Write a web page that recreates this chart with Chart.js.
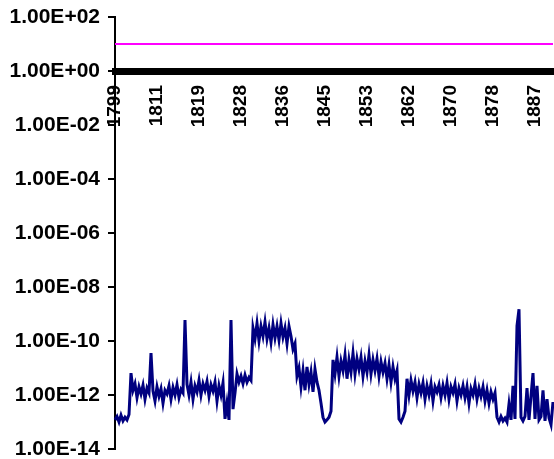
<!DOCTYPE html>
<html>
<head>
<meta charset="utf-8">
<title>Ratio chart</title>
<script src="https://cdn.jsdelivr.net/npm/chart.js@4.4.1/dist/chart.umd.min.js"></script>
<style>
  html, body { margin: 0; padding: 0; background: #fff; }
  #wrap { width: 554px; height: 459px; }
</style>
</head>
<body>
<div id="wrap"><canvas id="ratioChart" width="554" height="459"></canvas></div>
<script>
// year labels on the x axis, one every 21 samples
const tickYears = [1799, 1811, 1819, 1828, 1836, 1845, 1853, 1862, 1870, 1878, 1887];
const samplesPerTick = 21;

// log axis tick values
const yTicks = [1e2, 1e0, 1e-2, 1e-4, 1e-6, 1e-8, 1e-10, 1e-12, 1e-14];

// magenta reference level (start and end of the line)
const refLevel = [10, 10];

// navy series
const ratio = [
  // 1799 - low start
  1.2e-13, 1.6e-13, 1.0e-13, 1.8e-13, 1.1e-13, 1.5e-13, 1.2e-13, 1.9e-13,
  6.5e-12,
  1.5e-12, 2.6e-12, 8e-13, 2e-12, 1.1e-12, 2.3e-12, 7e-13, 1.8e-12, 1.2e-12,
  3.6e-11,
  1.4e-12, 6e-13, 2e-12, 9e-13, 1.7e-12, 5e-13, 1.5e-12, 1.1e-12,
  2.2e-12, 7e-13, 1.9e-12, 1e-12, 2.4e-12, 8e-13, 1.6e-12, 1.2e-12,
  6e-10,
  2.5e-12, 1e-12, 3e-12, 7e-13, 2.2e-12, 1.3e-12, 3.5e-12, 1e-12, 2.6e-12, 1.5e-12,
  3.2e-12, 9e-13, 2.4e-12, 1.4e-12, 3e-12, 6e-13, 2.2e-12, 1e-12, 2.8e-12,
  1.3e-13, 5e-13, 1.2e-13,
  6e-10,
  3e-13, 1.2e-12,
  6e-12, 3e-12, 5e-12, 2.6e-12, 5.5e-12, 3e-12, 4.5e-12, 3.5e-12,
  // high block
  3e-10, 1.2e-10, 4.5e-10, 1e-10, 3.5e-10, 1.5e-10, 5e-10, 1.2e-10, 3e-10, 9e-11, 4e-10,
  1.3e-10, 3.5e-10, 1.1e-10, 4.5e-10, 1.4e-10, 3e-10, 8e-11, 3.5e-10, 1.5e-10, 5e-11, 8e-11,
  5e-12, 1e-11, 2e-12, 8e-12, 1.5e-12, 1.1e-11, 2.5e-12, 7e-12, 1.3e-12, 9e-12, 3e-12, 1.5e-12, 5e-13,
  1.5e-13, 1e-13, 1.2e-13, 1.5e-13, 2.5e-13,
  // middle block
  2e-11, 6e-12, 2.5e-11, 5e-12, 1.8e-11, 8e-12, 3e-11, 4e-12, 2e-11, 7e-12, 3.5e-11,
  6e-12, 2.2e-11, 9e-12, 2.5e-11, 5e-12, 1.8e-11, 7e-12, 3e-11, 6e-12, 2e-11, 8e-12,
  2.2e-11, 5e-12, 1.7e-11, 7e-12, 1.5e-11, 4e-12, 1.3e-11, 3e-12, 1.1e-11, 4e-12, 8e-12,
  1.3e-13, 1e-13, 1.5e-13, 2.5e-13,
  4e-12, 1e-12, 3.5e-12, 1.4e-12, 3e-12, 8e-13, 2.5e-12, 1.2e-12, 2.8e-12, 7e-13,
  2.2e-12, 1e-12, 2.6e-12, 6e-13, 2e-12, 1.3e-12, 2.4e-12, 8e-13, 2.2e-12, 1e-12,
  2.8e-12, 7e-13, 2e-12, 1.2e-12, 2.5e-12, 6e-13, 1.8e-12, 1e-12, 2.2e-12, 8e-13,
  2e-12, 5e-13, 1.7e-12, 1e-12, 2.5e-12, 7e-13, 1.8e-12, 9e-13, 2e-12, 6e-13,
  1.5e-12, 5e-13, 1.3e-12, 7e-13, 1.2e-12,
  // low tail with spikes
  1.5e-13, 1e-13, 1.6e-13, 1.1e-13, 1.4e-13, 1e-13, 4.6e-13, 1.2e-13, 2.2e-12, 1.3e-13,
  3.6e-10, 1.5e-9, 1.5e-13, 1.1e-13, 1.6e-13, 1.8e-12, 1.2e-13, 9e-13, 6.5e-12, 1.3e-13,
  2.2e-12, 1.2e-13, 1.6e-13, 1.5e-12, 1.1e-13, 7e-13, 1.4e-13, 8e-14, 5.5e-13
];

const labels = ratio.map((v, i) => i);

// 1e-10 -> "1.00E-10"
function sci(v) {
  const [m, e] = Number(v).toExponential(2).split('e');
  return m + 'E' + e[0] + e.slice(1).padStart(2, '0');
}

const boldFont = (size) => ({ family: "'Liberation Sans', Arial, sans-serif", size: size, weight: 'bold' });

new Chart(document.getElementById('ratioChart').getContext('2d'), {
  type: 'line',
  data: {
    labels: labels,
    datasets: [
      {
        data: ratio,
        borderColor: '#000080',
        borderWidth: 3,
        pointRadius: 0,
        tension: 0
      },
      {
        data: refLevel.map((v, k) => ({ x: k === 0 ? 0 : ratio.length - 1, y: v })),
        borderColor: '#ff00ff',
        borderWidth: 2,
        pointRadius: 0
      }
    ]
  },
  options: {
    responsive: false,
    animation: false,
    layout: { padding: { top: 17, right: 1, bottom: 10, left: 0 } },
    plugins: { legend: { display: false }, tooltip: { enabled: false } },
    scales: {
      x: {
        position: { y: 1 },
        grid: { display: false, drawTicks: false },
        border: { display: true, color: '#000', width: 7 },
        ticks: {
          autoSkip: false,
          maxRotation: 90,
          minRotation: 90,
          padding: 14,
          color: '#000',
          font: boldFont(19),
          callback: (val, i) => i % samplesPerTick === 0 ? String(tickYears[i / samplesPerTick]) : ''
        },
        afterFit: (s) => { s.height = 0; s.paddingLeft = 0; s.paddingRight = 0; }
      },
      y: {
        type: 'logarithmic',
        min: 1e-14,
        max: 1e2,
        afterBuildTicks: (s) => { s.ticks = yTicks.map(v => ({ value: v })); },
        grid: { drawOnChartArea: false, drawTicks: true, tickLength: 7, color: '#000', lineWidth: 2 },
        border: { color: '#000', width: 2 },
        ticks: { padding: 8, color: '#000', font: boldFont(21), callback: (v) => sci(v) },
        afterFit: (s) => { s.width = 115; s.paddingTop = 0; s.paddingBottom = 0; }
      }
    }
  }
});
</script>
</body>
</html>
